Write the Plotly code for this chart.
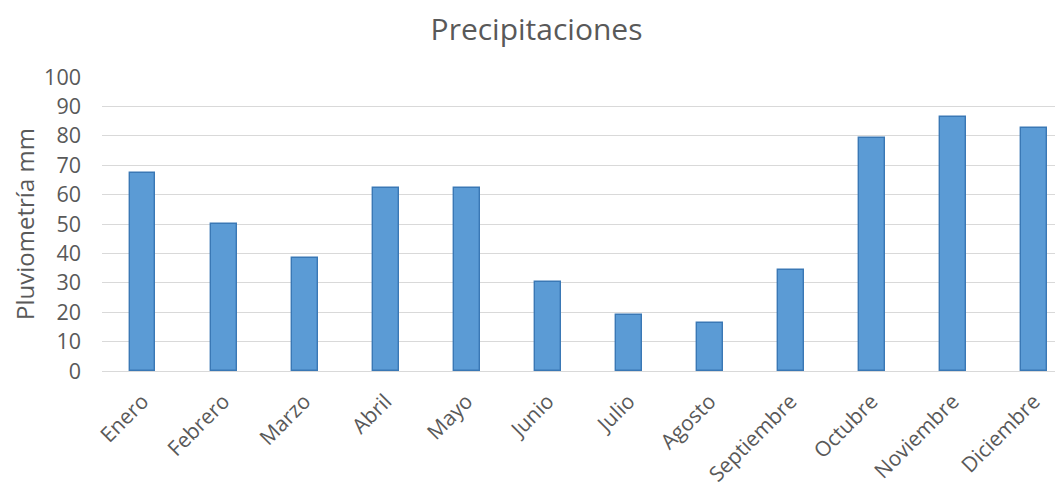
import plotly.graph_objects as go

months = ["Enero", "Febrero", "Marzo", "Abril", "Mayo", "Junio", "Julio",
          "Agosto", "Septiembre", "Octubre", "Noviembre", "Diciembre"]
rain_mm = [67.2, 50.1, 38.5, 62.2, 62.3, 30.2, 19.0, 16.4, 34.4, 79.4, 86.3, 82.7]
y_ticks = [0, 10, 20, 30, 40, 50, 60, 70, 80, 90, 100]

FONT = "Open Sans"
GREY = "#595959"

fig = go.Figure()
fig.add_trace(go.Bar(
    x=months, y=rain_mm, width=0.32,
    marker=dict(color="#5B9BD5", line=dict(color="#3A78B5", width=1.4)),
))

# page body has an 8px margin, so the figure is 8px smaller than the window
fig.update_layout(
    width=1055, height=479, autosize=False,
    paper_bgcolor="white", plot_bgcolor="white",
    margin=dict(l=94, r=0, t=69, b=114, pad=0),
    showlegend=False,
    font=dict(family=FONT, color=GREY),
    title=dict(text="Precipitaciones", x=0.501, xanchor="center",
               y=1 - 21.5 / 479, yanchor="middle", yref="container",
               font=dict(family=FONT, size=30, color=GREY)),
    bargap=0,
)
fig.update_xaxes(
    type="category", range=[-0.5, 11.36],
    tickangle=-45, tickfont=dict(family=FONT, size=21, color=GREY),
    showgrid=False, showline=False, ticks="", zeroline=False,
    ticklabelstandoff=13,
)
fig.update_yaxes(
    range=[0, 100], tickvals=y_ticks,
    tickfont=dict(family=FONT, size=21.5, color=GREY),
    showgrid=True, gridcolor="#D9D9D9", gridwidth=1.4,
    zeroline=True, zerolinecolor="#D9D9D9", zerolinewidth=1.4,
    showline=False, ticks="", ticklabelstandoff=20,
    title=dict(text="Pluviometría mm", standoff=11,
               font=dict(family=FONT, size=24, color=GREY)),
)

fig.write_html("out.html")
